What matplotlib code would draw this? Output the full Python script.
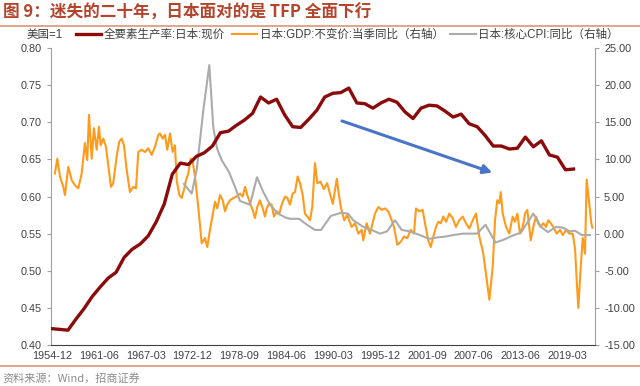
import numpy as np
import matplotlib
matplotlib.use('Agg')
import matplotlib.pyplot as plt
from matplotlib.lines import Line2D

plt.rcParams['font.family'] = ['Liberation Sans', 'Noto Sans CJK SC', 'DejaVu Sans']

## Data
# TFP (US=1), annual, December of each year
tfp_years = np.arange(1954, 2020) + 11 / 12.
tfp = [0.422, 0.421, 0.420, 0.435, 0.449, 0.465, 0.478, 0.490, 0.498, 0.518,
       0.529, 0.536, 0.547, 0.566, 0.590, 0.630, 0.645, 0.643, 0.654, 0.659,
       0.668, 0.686, 0.688, 0.696, 0.703, 0.712, 0.734, 0.726, 0.731, 0.710,
       0.694, 0.693, 0.704, 0.716, 0.734, 0.739, 0.740, 0.746, 0.726, 0.725,
       0.719, 0.726, 0.731, 0.727, 0.714, 0.705, 0.719, 0.723, 0.722, 0.715,
       0.707, 0.711, 0.698, 0.694, 0.682, 0.668, 0.668, 0.664, 0.665, 0.680,
       0.667, 0.675, 0.656, 0.653, 0.636, 0.637]

# Real GDP, y/y % (right axis)
gdp_t = [1955.29, 1955.58, 1955.92, 1956.33, 1956.54, 1956.95, 1957.38, 1957.79,
         1958.20, 1958.62, 1959.03, 1959.32, 1959.53, 1959.87, 1960.15, 1960.49,
         1960.78, 1960.99, 1961.31, 1961.65, 1961.94, 1962.27, 1962.56, 1962.98,
         1963.31, 1963.61, 1963.89, 1964.23, 1964.64, 1965.05, 1965.39, 1965.68,
         1966.10, 1966.51, 1966.92, 1967.35, 1967.76, 1968.17, 1968.38, 1968.72,
         1969.00, 1969.29, 1969.63, 1969.96, 1970.25, 1970.46, 1970.79, 1971.09,
         1971.37, 1971.62, 1971.91, 1972.21, 1972.46, 1972.74, 1973.15, 1973.58,
         1973.99, 1974.28, 1974.53, 1974.83, 1975.24, 1975.52, 1975.86, 1976.20,
         1976.48, 1976.77, 1977.11, 1977.52, 1977.94, 1978.35, 1978.69, 1978.98,
         1979.26, 1979.60, 1979.93, 1980.22, 1980.51, 1980.84, 1981.18, 1981.47,
         1981.68, 1982.00, 1982.30, 1982.59, 1982.93, 1983.25, 1983.55, 1983.96,
         1984.25, 1984.58, 1984.92, 1985.21, 1985.54, 1985.83, 1986.17, 1986.45,
         1986.74, 1987.08, 1987.36, 1987.70, 1987.99, 1988.39, 1988.80, 1989.21,
         1989.54, 1989.92, 1990.42, 1990.71, 1990.96, 1991.34, 1991.71, 1992.27,
         1992.69, 1993.10, 1993.52, 1993.72, 1994.14, 1994.55, 1994.97, 1995.18,
         1995.59, 1996.01, 1996.42, 1996.84, 1997.26, 1997.55, 1997.96, 1998.38,
         1998.79, 1999.20, 1999.63, 2000.04, 2000.29, 2000.70, 2001.12, 2001.41,
         2001.82, 2002.12, 2002.45, 2002.78, 2003.07, 2003.37, 2003.69, 2004.03,
         2004.44, 2004.86, 2005.27, 2005.68, 2006.11, 2006.52, 2006.93, 2007.36,
         2007.77, 2008.18, 2008.68, 2009.01, 2009.43, 2009.85, 2010.14, 2010.42,
         2010.67, 2010.85, 2011.10, 2011.51, 2011.92, 2012.34, 2012.63, 2012.92,
         2013.25, 2013.59, 2013.88, 2014.16, 2014.59, 2014.91, 2015.25, 2015.53,
         2015.83, 2016.16, 2016.49, 2016.78, 2017.08, 2017.40, 2017.82, 2018.24,
         2018.57, 2018.99, 2019.40, 2019.82, 2020.11, 2020.32, 2020.52, 2020.82,
         2021.07, 2021.35, 2021.56, 2021.84, 2022.14, 2022.27]
gdp = [8.1, 10.1, 7.7, 6.3, 5.2, 9.0, 7.2, 6.5,
       6.1, 8.1, 12.2, 9.9, 16.0, 10.1, 14.2, 11.3,
       14.4, 11.9, 12.8, 11.7, 9.2, 6.3, 6.8, 10.4,
       12.4, 12.8, 11.9, 8.6, 5.6, 6.3, 6.1, 11.0,
       11.3, 11.0, 11.5, 10.6, 11.7, 13.3, 13.5, 12.8,
       13.3, 11.3, 13.5, 11.0, 11.9, 7.2, 5.2, 4.8,
       5.9, 7.2, 8.1, 10.1, 9.7, 7.7, 3.6, -1.3,
       -0.6, -1.8, 0.0, 1.8, 4.3, 3.4, 5.2, 4.5,
       3.0, 3.9, 4.5, 4.8, 5.0, 5.4, 5.0, 6.3,
       5.2, 4.1, 3.2, 2.1, 3.6, 4.5, 3.4, 2.3,
       3.4, 4.1, 3.9, 2.3, 3.0, 2.7, 3.9, 5.0,
       4.8, 3.9, 5.4, 5.6, 7.7, 6.8, 5.2, 2.7,
       2.3, 1.8, 3.6, 9.5, 6.8, 7.0, 6.0, 6.8,
       5.5, 4.0, 7.4, 5.0, 3.4, 1.8, 2.5, 0.9,
       1.4, 0.0, 0.5, -0.9, 1.4, 0.0, 1.8, 2.7,
       3.6, 3.2, 3.4, 3.0, 1.8, 0.9, -1.5, -1.1,
       -0.4, -0.6, 0.5, 0.0, 3.4, 3.0, 3.2, 1.4,
       -0.9, -1.8, -0.4, 0.9, 1.6, 1.4, 2.3, 1.6,
       2.7, 2.1, 0.9, 1.8, 2.3, 1.4, 0.7, 1.8,
       2.7, -0.4, -2.7, -5.4, -8.9, -4.5, 1.8, 4.5,
       4.1, 5.6, 2.7, 0.9, 0.0, 2.3, 1.6, 2.7,
       0.0, 0.9, 2.7, 3.2, -0.9, 0.9, 2.3, 1.4,
       0.9, 1.4, 0.9, 1.8, 1.4, 0.9, 0.0, 0.5,
       -0.2, 0.5, 0.0, 0.0, -2.0, -6.3, -10.0, -4.5,
       -0.6, -2.7, 7.3, 4.5, 1.4, 0.8]

# Core CPI, y/y % (right axis)
cpi_t = [1971.37, 1972.33, 1972.96, 1973.78, 1974.53, 1975.02, 1975.49, 1976.07,
         1976.98, 1977.73, 1978.35, 1979.60, 1980.47, 1981.26, 1982.09, 1983.09,
         1983.96, 1984.58, 1985.71, 1986.70, 1987.70, 1988.45, 1989.69, 1990.94,
         1991.81, 1992.47, 1993.72, 1994.97, 1995.80, 1996.68, 1997.67, 1998.51,
         1999.54, 2000.79, 2001.91, 2003.03, 2003.90, 2004.90, 2006.15, 2007.89,
         2008.95, 2010.20, 2011.26, 2012.26, 2013.38, 2014.91, 2015.87, 2016.74,
         2017.74, 2018.61, 2019.48, 2020.11, 2020.96, 2021.97]
cpi = [6.7, 5.4, 8.6, 16.6, 22.7, 14.4, 11.5, 9.9,
       8.3, 6.3, 4.4, 3.9, 7.6, 5.6, 3.9, 2.7,
       2.2, 2.0, 2.0, 1.2, 0.5, 0.5, 2.4, 2.8,
       2.7, 1.8, 0.9, 0.4, 0.0, 0.3, 1.8, 0.5,
       0.3, -0.2, -0.7, -0.5, -0.4, -0.2, 0.0, 0.0,
       1.2, -1.2, -0.8, -0.3, 0.15, 2.7, 0.9, 0.2,
       0.9, 0.8, 0.3, 0.4, -0.2, -0.2]

x_labels = ['1954-12', '1961-06', '1967-03', '1972-12', '1978-09', '1984-06',
            '1990-03', '1995-12', '2001-09', '2007-06', '2013-06', '2019-03']
x_first, x_last = 1954.92, 2019.17  # first and last labelled dates

# Trend arrow (start/end in data units of the left axis)
arrow_from = (1990.73, 0.703)
arrow_to = (2010.13, 0.631)

## Plot
fig = plt.figure(figsize=(6.4, 3.86), dpi=100)
ax = fig.add_axes([0.0792, 0.1062, 0.8505, 0.7694])
ax2 = ax.twinx()

ax.plot(tfp_years, tfp, color='#8B0A0A', lw=2.4, zorder=3,
        label='全要素生产率:日本:现价')
ax2.plot(gdp_t, gdp, color='#FF9A1A', lw=1.5,
         label='日本:GDP:不变价:当季同比（右轴）')
ax2.plot(cpi_t, cpi, color='#ABABAB', lw=1.5,
         label='日本:核心CPI:同比（右轴）')
ax.set_zorder(ax2.get_zorder() + 1)
ax.patch.set_visible(False)

ax.annotate('', xy=arrow_to, xytext=arrow_from,
            arrowprops=dict(arrowstyle='-|>', color='#4A74C8', lw=2.2,
                            mutation_scale=13))

ax.set_xlim(1954.76, 2022.6)
ax.set_xticks(np.linspace(x_first, x_last, len(x_labels)))
ax.set_xticklabels(x_labels)
ax.set_ylim(0.40, 0.80)
ax.set_yticks(np.arange(0.40, 0.801, 0.05))
ax.yaxis.set_major_formatter(matplotlib.ticker.FormatStrFormatter('%.2f'))
ax2.set_ylim(-15, 25)
ax2.set_yticks(np.arange(-15, 26, 5))
ax2.yaxis.set_major_formatter(matplotlib.ticker.FormatStrFormatter('%.2f'))

for a in (ax, ax2):
    a.spines['top'].set_visible(False)
    a.tick_params(labelsize=7.8, colors='#404040', length=3, width=0.8)
    a.tick_params(axis='x', length=0, pad=4)
ax.spines['left'].set_color('#A0A0A0')
ax2.spines['right'].set_color('#A0A0A0')
ax.spines['bottom'].set_color('#404040')
ax2.spines['bottom'].set_visible(False)
ax2.spines['left'].set_visible(False)
ax.spines['right'].set_visible(False)
ax.tick_params(axis='y', colors='#A0A0A0', labelcolor='#404040')
ax2.tick_params(axis='y', colors='#A0A0A0', labelcolor='#404040')

# Legend row
fig.text(27 / 640, 0.909, '美国=1', fontsize=8.3, color='#404040', va='center')
h1, l1 = ax.get_legend_handles_labels()
h2, l2 = ax2.get_legend_handles_labels()
fig.legend(h1 + h2, l1 + l2, loc='center left', bbox_to_anchor=(76 / 640, 0.909),
           ncol=3, frameon=False, fontsize=8.3, handlelength=2.2, handletextpad=0.2,
           columnspacing=0.6, borderpad=0, borderaxespad=0, labelcolor='#404040')

# Title, rules and source
fig.text(0.004, 0.968, '图 9：迷失的二十年，日本面对的是 TFP 全面下行', fontsize=12,
         fontweight='bold', color='#B5442C', va='center',
         family=['Noto Sans CJK SC', 'DejaVu Sans'])
fig.add_artist(Line2D([0, 1], [1 - 25.5 / 386] * 2, color='#D98B6C', lw=1.1))
fig.add_artist(Line2D([0, 1], [1 - 366 / 386] * 2, color='#D98B6C', lw=1.1))
fig.text(0.004, 1 - 378 / 386, '资料来源：Wind，招商证券', fontsize=8,
         color='#8C8C8C', va='center', family=['Noto Sans CJK SC', 'DejaVu Sans'])

fig.savefig('out.png', dpi=100)
